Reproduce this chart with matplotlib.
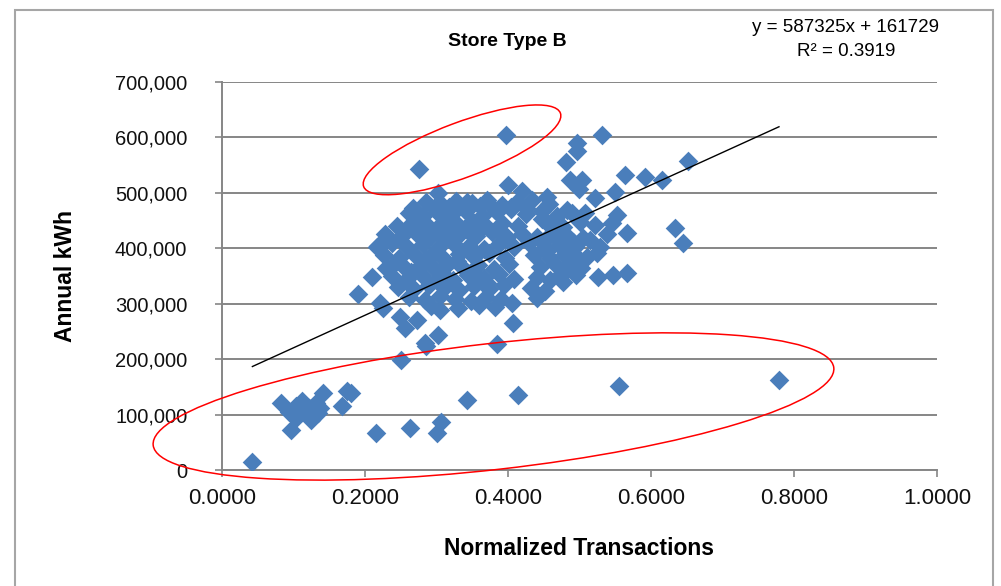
import matplotlib
matplotlib.use('Agg')
import matplotlib.pyplot as plt
from matplotlib.patches import Ellipse, Rectangle
from matplotlib.transforms import IdentityTransform
from matplotlib.ticker import FuncFormatter

plt.rcParams['font.family'] = ['Liberation Sans', 'DejaVu Sans']

# ---------------- data ----------------
# low-kWh outliers (normalized transactions, annual kWh in thousands)
low_x = [0.0425, 0.0825, 0.094, 0.103, 0.1125, 0.122, 0.131, 0.1406, 0.103, 0.124,
         0.134, 0.1125, 0.1375, 0.097, 0.1675, 0.175, 0.180, 0.2156, 0.2625, 0.300,
         0.306, 0.342, 0.414, 0.555, 0.779]
low_y = [15, 121, 105, 115, 124, 112, 121, 139, 93, 90,
         102, 105, 112, 72, 115, 142, 139, 66, 76, 66,
         87, 126, 136, 152, 162]

# scattered points around the main cluster
edge_x = [0.275, 0.397, 0.531, 0.497, 0.497, 0.481, 0.652, 0.564, 0.592, 0.615,
          0.400, 0.420, 0.302, 0.487, 0.503, 0.499, 0.550, 0.522, 0.454, 0.343,
          0.267, 0.270, 0.482, 0.552, 0.545, 0.566, 0.634, 0.645, 0.529, 0.566,
          0.547, 0.526, 0.473, 0.482, 0.500, 0.515, 0.508, 0.524, 0.487,
          0.190, 0.225, 0.210, 0.221, 0.256, 0.284, 0.302, 0.407, 0.405, 0.477,
          0.250, 0.286, 0.385, 0.273, 0.249, 0.305, 0.221, 0.217]
edge_y = [543, 604, 605, 590, 575, 556, 558, 532, 529, 523,
          514, 503, 499, 523, 524, 507, 502, 490, 493, 484,
          473, 451, 469, 460, 446, 428, 437, 410, 403, 356,
          352, 348, 348, 384, 379, 415, 463, 392, 374,
          318, 292, 348, 402, 256, 229, 244, 265, 301, 339,
          198, 224, 227, 271, 276, 289, 301, 403]

# dense core of the cluster
core_x = [0.285, 0.306, 0.327, 0.349, 0.371, 0.392, 0.413, 0.434, 0.458,
          0.262, 0.281, 0.300, 0.322, 0.341, 0.363, 0.384, 0.404, 0.425, 0.447, 0.468, 0.490,
          0.245, 0.266, 0.288, 0.309, 0.330, 0.350, 0.371, 0.392, 0.414, 0.456, 0.477, 0.500, 0.521,
          0.228, 0.250, 0.271, 0.292, 0.313, 0.334, 0.355, 0.377, 0.398, 0.419, 0.440, 0.462, 0.483, 0.505, 0.538,
          0.218, 0.238, 0.259, 0.281, 0.302, 0.323, 0.345, 0.366, 0.387, 0.408, 0.430, 0.451, 0.472, 0.494,
          0.226, 0.247, 0.268, 0.290, 0.311, 0.332, 0.353, 0.374, 0.396, 0.437, 0.459, 0.480, 0.510,
          0.230, 0.252, 0.273, 0.294, 0.316, 0.337, 0.358, 0.380, 0.401, 0.445, 0.466, 0.502,
          0.238, 0.259, 0.280, 0.302, 0.323, 0.344, 0.366, 0.387, 0.408, 0.440, 0.459, 0.495,
          0.246, 0.268, 0.289, 0.310, 0.331, 0.353, 0.374, 0.395, 0.432, 0.452,
          0.262, 0.284, 0.305, 0.326, 0.348, 0.369, 0.390, 0.440,
          0.292, 0.330, 0.360, 0.382,
          0.296, 0.318, 0.339, 0.361, 0.382, 0.404, 0.425, 0.447,
          0.256, 0.278, 0.299, 0.320, 0.342, 0.364, 0.385, 0.450, 0.472, 0.491,
          0.243, 0.265, 0.286, 0.307, 0.328, 0.350, 0.370, 0.455, 0.476]
core_y = [484, 479, 486, 481, 488, 478, 483, 487, 480,
          463, 458, 466, 461, 468, 459, 465, 470, 461, 467, 458, 464,
          441, 446, 440, 447, 442, 449, 439, 445, 441, 444, 439, 447, 442,
          426, 421, 428, 423, 419, 427, 422, 429, 420, 426, 421, 428, 423, 419, 425,
          404, 409, 402, 407, 400, 410, 404, 399, 408, 403, 409, 400, 406, 402,
          388, 383, 390, 385, 381, 389, 384, 391, 382, 387, 383, 389, 385,
          365, 370, 363, 368, 372, 364, 369, 362, 371, 366, 372, 364,
          350, 345, 352, 347, 343, 351, 346, 353, 344, 349, 343, 352,
          331, 326, 333, 328, 324, 332, 327, 334, 329, 323,
          312, 307, 314, 309, 305, 313, 308, 311,
          296, 293, 298, 294,
          472, 474, 470, 476, 469, 475, 472, 452,
          432, 435, 431, 436, 433, 437, 434, 413, 416, 412,
          376, 357, 378, 356, 377, 358, 338, 395, 356]

slope = 587325
intercept = 161729
r2 = 0.3919

x_ticks = [0.0, 0.2, 0.4, 0.6, 0.8, 1.0]
y_ticks = [0, 100000, 200000, 300000, 400000, 500000, 600000, 700000]

all_x = low_x + edge_x + core_x
all_y = [v * 1000 for v in (low_y + edge_y + core_y)]

# ---------------- figure ----------------
W, H = 1001, 586
fig = plt.figure(figsize=(W / 100, H / 100), dpi=100)
fig.patch.set_facecolor('white')

# outer chart border
fig.add_artist(Rectangle((15 / W, -0.05), (993 - 15) / W, 1.05 - 10 / H,
                         transform=fig.transFigure, fill=False,
                         edgecolor='#a6a6a6', linewidth=1.5))

ax = fig.add_axes([222 / W, 1 - 470 / H, (937 - 222) / W, (470 - 82) / H])
ax.set_xlim(0, 1.0)
ax.set_ylim(0, 700000)
ax.set_xticks(x_ticks)
ax.set_yticks(y_ticks)
ax.xaxis.set_major_formatter(FuncFormatter(lambda v, p: f"{v:.4f}"))
ax.yaxis.set_major_formatter(FuncFormatter(lambda v, p: f"{int(v):,}"))
ax.grid(axis='y', color='#868686', linewidth=1.4)
ax.set_axisbelow(True)
for s in ['top', 'right']:
    ax.spines[s].set_visible(False)
for s in ['left', 'bottom']:
    ax.spines[s].set_color('#868686')
    ax.spines[s].set_linewidth(1.4)
ax.tick_params(axis='both', direction='out', length=5, width=1.2, color='#868686',
               labelcolor='#111111')
ax.tick_params(axis='y', pad=20, labelsize=14.5)
ax.tick_params(axis='x', pad=8, labelsize=16)

ax.scatter(all_x, all_y, marker='D', s=100, color='#4a7ebb', linewidths=0, zorder=3)

xmin, xmax = min(all_x), max(all_x)
ax.plot([xmin, xmax], [slope * xmin + intercept, slope * xmax + intercept],
        color='black', linewidth=1.0, zorder=4)

ax.set_xlabel('Normalized Transactions', fontsize=16.5, fontweight='bold', labelpad=20)
ax.set_ylabel('Annual kWh', fontsize=16.5, fontweight='bold', labelpad=27)

fig.text(507 / W, 1 - 42 / H, 'Store Type B', fontsize=14, fontweight='bold',
         ha='center', va='center')
fig.text(846 / W, 1 - 27 / H, f'y = {slope}x + {intercept}', fontsize=13.5,
         ha='center', va='center')
fig.text(846 / W, 1 - 52 / H, f'R² = {r2}', fontsize=13.5, ha='center', va='center')

# red highlight ellipses (center in data units, size in pixels, angle in degrees)
ellipses = [((0.3357, 577600), 210, 55, 20.5), ((0.3797, 114600), 685, 126, 6.5)]
for (cx, cy), w, h, ang in ellipses:
    px, py = ax.transData.transform((cx, cy))
    e = Ellipse((px, py), w, h, angle=ang, transform=IdentityTransform(),
                fill=False, edgecolor='#ff0000', linewidth=1.1, zorder=5, clip_on=False)
    fig.add_artist(e)

fig.savefig('out.png', dpi=100)
